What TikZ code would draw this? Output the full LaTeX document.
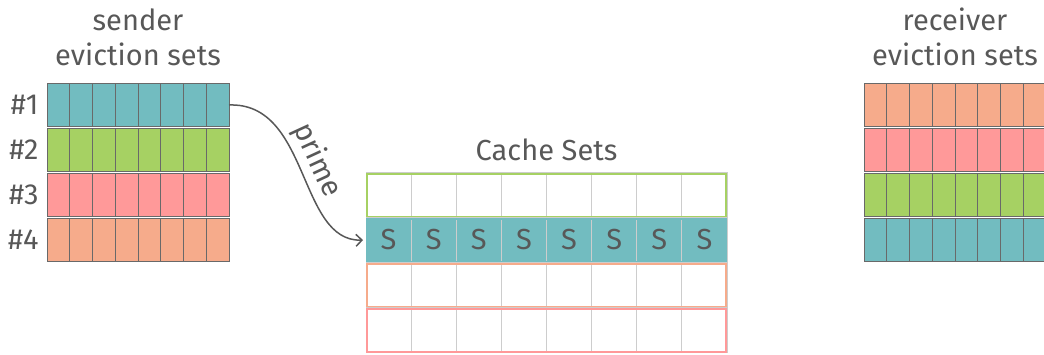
\documentclass[tikz,border=0pt]{standalone}
\usepackage{fontspec}
\setmainfont{Fira Sans}
\usetikzlibrary{calc}
\usetikzlibrary{arrows.meta}
\usetikzlibrary{positioning}
\definecolor{setteal}{RGB}{114,188,192}
\definecolor{setgreen}{RGB}{166,209,99}
\definecolor{setred}{RGB}{255,153,153}
\definecolor{setorange}{RGB}{246,171,139}
\definecolor{inkgray}{RGB}{88,88,88}
\definecolor{cellgray}{RGB}{205,205,205}

\begin{document}
\begin{tikzpicture}[x=1pt,y=-1pt,
	evrow/.style={draw=inkgray!90,line width=1pt,minimum width=182pt,minimum height=43pt,inner sep=0pt,outer sep=0pt},
	cacherow/.style={draw=cellgray,line width=1pt,minimum width=361pt,minimum height=45pt,inner sep=0pt,outer sep=0pt},
	lbl/.style={text=inkgray,font=\fontsize{29}{35}\selectfont,align=center}]
	
	\useasboundingbox (0,0) rectangle (1044,354);
	\clip (0,0) rectangle (1044,354);
	
	% sender eviction sets
	\node[lbl] (sendertitle) at (138,37) {sender\\eviction sets};
	\foreach \i/\c in {1/setteal,2/setgreen,3/setred,4/setorange}{
		\node[evrow,fill=\c] (s\i) at (138,{105+(\i-1)*45}) {};
		\foreach \k in {1,...,7}
			\draw[inkgray!90,line width=1pt] (s\i.north west) ++(\k*22.75,0) -- ++(0,43);
		\node[lbl,left=5pt of s\i] (n\i) {\#\i};
	}
	
	% cache sets
	\node[lbl] (cachetitle) at (546.5,150) {Cache Sets};
	\foreach \i/\c/\f in {1/setgreen/white,2/setteal/setteal,3/setorange/white,4/setred/white}{
		\node[cacherow,fill=\f] (c\i) at (546.5,{195+(\i-1)*45}) {};
		\foreach \k in {1,...,7}
			\draw[cellgray,line width=1pt] (c\i.north west) ++(\k*45.125,0) -- ++(0,45);
		\draw[\c,line width=2pt] (c\i.north west) ++(1,1) rectangle ($(c\i.south east)+(-1,-1)$);
	}
	\foreach \k in {0,...,7}
		\node[lbl] (t\k) at ($(c2.west)+({22.56+\k*45.125},0)$) {S};
	
	% receiver eviction sets
	\node[lbl] (receivertitle) at (955,37) {receiver\\eviction sets};
	\foreach \i/\c in {1/setorange,2/setred,3/setgreen,4/setteal}{
		\node[evrow,fill=\c] (r\i) at (955,{105+(\i-1)*45}) {};
		\foreach \k in {1,...,7}
			\draw[inkgray!90,line width=1pt] (r\i.north west) ++(\k*22.75,0) -- ++(0,43);
	}
	
	% prime
	\draw[inkgray,line width=1.5pt,-{Straight Barb[length=6pt,width=12pt]},shorten >=3pt]
		(s1.east) .. controls (310,102) and (298,242) .. (c2.west)
		node[pos=0.48,above,sloped,lbl,inner sep=3pt] {prime};
\end{tikzpicture}
\end{document}
